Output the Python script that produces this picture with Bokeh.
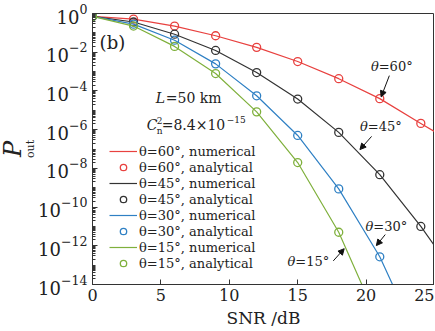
import math
from bokeh.plotting import figure
from bokeh.models import FixedTicker, Label, Arrow, NormalHead, Legend, LegendItem, Title
from bokeh.embed import file_html
from bokeh.resources import INLINE

# ---- data ----
snr_ana = [0, 3, 6, 9, 12, 15, 18, 21, 24]
p60_ana = [0.708, 0.513, 0.224, 7.1e-2, 1.78e-2, 3.3e-3, 4.3e-4, 4.0e-5, 2.1e-6]
p45_ana = [0.708, 0.363, 8.5e-2, 1.23e-2, 8.9e-4, 3.8e-5, 7.2e-7, 4.7e-9, 1.0e-11]
p30_ana = [0.708, 0.282, 4.17e-2, 2.5e-3, 5.6e-5, 5.0e-7, 8.7e-10, 2.7e-13]
p15_ana = [0.708, 0.224, 2.0e-2, 7.9e-4, 8.3e-6, 2.0e-8, 5.0e-12]

snr60_num = [0, 3, 6, 9, 12, 15, 18, 21, 24, 25]
p60_num = [0.708, 0.513, 0.224, 7.1e-2, 1.78e-2, 3.3e-3, 4.3e-4, 4.0e-5, 2.1e-6, 7.9e-7]
snr45_num = [0, 3, 6, 9, 12, 15, 18, 21, 24, 25]
p45_num = [0.708, 0.363, 8.5e-2, 1.23e-2, 8.9e-4, 3.8e-5, 7.2e-7, 4.7e-9, 1.0e-11, 1.0e-12]
snr30_num = [0, 3, 6, 9, 12, 15, 18, 21, 22]
p30_num = [0.708, 0.282, 4.17e-2, 2.5e-3, 5.6e-5, 5.0e-7, 8.7e-10, 2.7e-13, 7.9e-15]
snr15_num = [0, 3, 6, 9, 12, 15, 18, 20]
p15_num = [0.708, 0.224, 2.0e-2, 7.9e-4, 8.3e-6, 2.0e-8, 5.0e-12, 3.2e-15]

angles = ["60", "45", "30", "15"]
colors = ["#e8413f", "#333333", "#2f80c4", "#7fb03c"]
x_ticks = [0, 5, 10, 15, 20, 25]
y_major = [10.0 ** (-k) for k in range(0, 15, 2)]
y_minor = [m * 10.0 ** k for k in range(-14, 0) for m in range(1, 10)]

FONT = "DejaVu Serif"

p = figure(width=434, height=330, y_axis_type="log",
           x_range=(0, 25), y_range=(1e-14, 1),
           output_backend="svg", toolbar_location=None,
           min_border_left=0, min_border_right=0,
           min_border_top=13, min_border_bottom=0)
p.xgrid.visible = False
p.ygrid.visible = False
p.outline_line_color = "#333333"
p.outline_line_width = 1
p.background_fill_color = "white"

nums = [(snr60_num, p60_num), (snr45_num, p45_num), (snr30_num, p30_num), (snr15_num, p15_num)]
anas = [p60_ana, p45_ana, p30_ana, p15_ana]

items = []
for ang, col, (xs, ys), ya in zip(angles, colors, nums, anas):
    rl = p.line(xs, ys, line_color=col, line_width=1.2)
    rc = p.scatter(snr_ana[:len(ya)], ya, marker="circle", size=8,
                   line_color=col, fill_color=None, line_width=1.3)
    items.append(LegendItem(label="\u03b8=%s\u00b0, numerical" % ang, renderers=[rl]))
    items.append(LegendItem(label="\u03b8=%s\u00b0, analytical" % ang, renderers=[rc]))

legend = Legend(items=items, location=(17, 13))
legend.label_text_font = FONT
legend.label_text_font_size = "13px"
legend.label_text_color = "#222222"
legend.glyph_width = 28
legend.glyph_height = 16
legend.label_height = 16
legend.label_standoff = 2
legend.spacing = 0
legend.padding = 0
legend.margin = 0
legend.border_line_color = None
legend.background_fill_alpha = 0
p.add_layout(legend)

# axes
p.xaxis.ticker = FixedTicker(ticks=x_ticks)
p.yaxis.ticker = FixedTicker(ticks=y_major, minor_ticks=y_minor)
for ax in (p.xaxis[0], p.yaxis[0]):
    ax.axis_line_color = "#333333"
    ax.major_tick_line_color = "#333333"
    ax.major_tick_in = 5
    ax.major_tick_out = 0
    ax.major_label_text_font = FONT
    ax.major_label_text_color = "#222222"
p.xaxis.major_label_standoff = 4
p.yaxis.major_label_standoff = 5
p.xaxis.minor_tick_line_color = None
p.xaxis.major_label_text_font_size = "16px"
p.yaxis.major_label_text_font_size = "18px"
p.yaxis.minor_tick_in = 3
p.yaxis.minor_tick_out = 0
p.yaxis.minor_tick_line_color = "#333333"

p.xaxis.axis_label = "SNR /dB"
p.xaxis.axis_label_text_font = FONT
p.xaxis.axis_label_text_font_size = "17px"
p.xaxis.axis_label_text_font_style = "normal"
p.xaxis.axis_label_text_color = "#222222"
p.xaxis.axis_label_standoff = 4

# y-axis title: italic P with subscript "out"
p.add_layout(Title(text="out", text_font=FONT, text_font_size="11px",
                   text_font_style="normal", text_color="#222222",
                   align="center", offset=14, standoff=-2), "left")
p.add_layout(Title(text="P", text_font=FONT, text_font_size="24px",
                   text_font_style="italic", text_color="#222222",
                   align="center", offset=-8, standoff=-8), "left")

def lab(x, y, text, size="14px", style="normal", xo=0, yo=0, align="left",
        baseline="middle", angle=0.0):
    p.add_layout(Label(x=x, y=y, text=text, x_offset=xo, y_offset=yo,
                       text_font=FONT, text_font_size=size, text_font_style=style,
                       text_align=align, text_baseline=baseline, angle=angle,
                       text_color="#222222"))

# panel text
lab(0.52, 10 ** -1.49, "(b)", size="18px")
lab(4.63, 10 ** -4.36, "L", style="italic")
lab(4.63, 10 ** -4.36, "=50 km", xo=10)
lab(3.96, 10 ** -5.77, "C", style="italic")
lab(3.96, 10 ** -5.77, "2", size="9px", xo=10, yo=5)
lab(3.96, 10 ** -5.77, "n", size="9px", xo=10, yo=-6)
lab(3.96, 10 ** -5.77, "=8.4\u00d710", xo=15)
lab(3.96, 10 ** -5.77, "\u221215", size="9px", xo=80, yo=6)

# curve annotations
def theta(x, y, ang):
    lab(x, y, "\u03b8", size="13px", style="italic", align="right", xo=-12)
    lab(x, y, "=%s\u00b0" % ang, size="13px", xo=-12)

theta(21.8, 10 ** -2.74, "60")
theta(21.0, 10 ** -5.83, "45")
theta(21.4, 10 ** -11.0, "30")
theta(15.7, 10 ** -12.83, "15")

arrows = [((21.7, -3.21), (21.1, -4.31)),
          ((20.4, -6.35), (19.55, -7.03)),
          ((21.4, -11.42), (20.75, -11.99)),
          ((17.6, -12.78), (18.4, -12.15))]
for (x0, l0), (x1, l1) in arrows:
    p.add_layout(Arrow(x_start=x0, y_start=10 ** l0, x_end=x1, y_end=10 ** l1,
                       line_color="#111111", line_width=1,
                       end=NormalHead(size=6, fill_color="#111111", line_color="#111111")))

open("out.html", "w").write(file_html(p, INLINE))
